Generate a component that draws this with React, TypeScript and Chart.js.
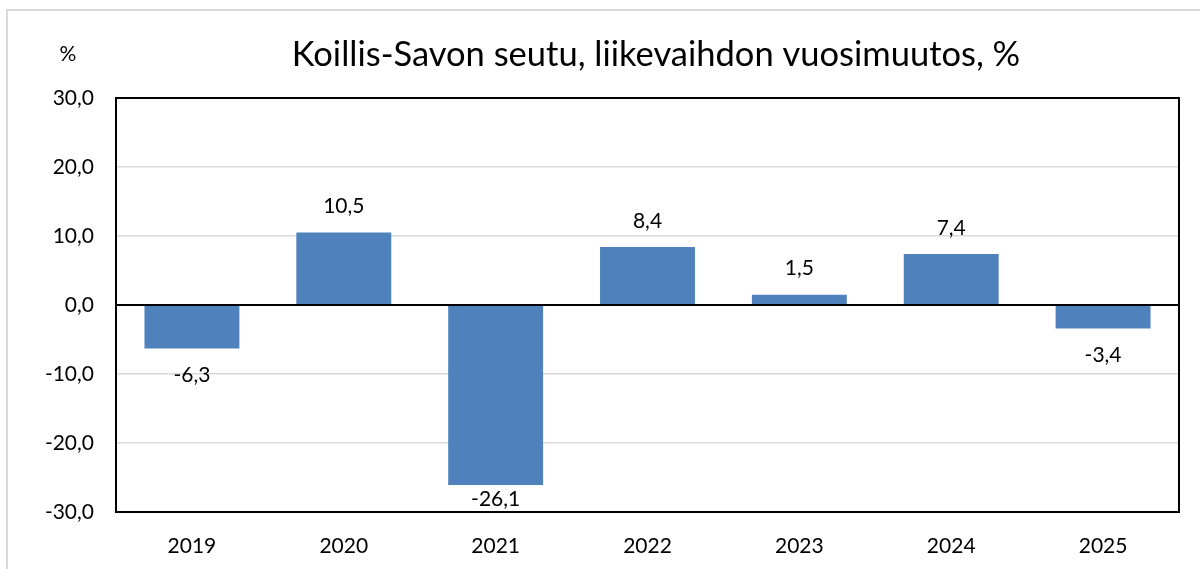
import { useEffect, useRef } from 'react';
import { Chart, registerables } from 'chart.js';

Chart.register(...registerables);

const categories = ['2019', '2020', '2021', '2022', '2023', '2024', '2025'];
const changes = [-6.3, 10.5, -26.1, 8.4, 1.5, 7.4, -3.4];
const yMin = -30;
const yMax = 30;
const yStep = 10;
const titleText = 'Koillis-Savon seutu, liikevaihdon vuosimuutos, %';
const unitLabel = '%';

const FONT = 'Lato, "Open Sans", sans-serif';
const fmt = (v: number) => v.toFixed(1).replace('.', ',');

export default function App() {
  const ref = useRef<HTMLCanvasElement>(null);

  useEffect(() => {
    const canvas = ref.current;
    if (!canvas) return;

    const deco = {
      id: 'deco',
      beforeDraw(chart: any) {
        const { ctx, width, height } = chart;
        ctx.save();
        ctx.fillStyle = '#ffffff';
        ctx.fillRect(0, 0, width, height);
        ctx.strokeStyle = '#d9d9d9';
        ctx.lineWidth = 2;
        ctx.beginPath();
        ctx.moveTo(7, height + 5);
        ctx.lineTo(7, 10);
        ctx.lineTo(width + 5, 10);
        ctx.stroke();
        ctx.fillStyle = '#000000';
        ctx.textAlign = 'center';
        ctx.textBaseline = 'middle';
        ctx.font = `34.5px ${FONT}`;
        ctx.fillText(titleText, 656, 55);
        ctx.font = `21px ${FONT}`;
        ctx.fillText(unitLabel, 68, 54);
        ctx.restore();
      },
      afterDatasetsDraw(chart: any) {
        const { ctx, chartArea } = chart;
        const yScale = chart.scales.y;
        const y0 = yScale.getPixelForValue(0);
        ctx.save();
        ctx.strokeStyle = '#000000';
        ctx.lineWidth = 2;
        ctx.beginPath();
        ctx.moveTo(chartArea.left, y0);
        ctx.lineTo(chartArea.right, y0);
        ctx.stroke();

        const meta = chart.getDatasetMeta(0);
        ctx.fillStyle = '#000000';
        ctx.font = `21px ${FONT}`;
        ctx.textAlign = 'center';
        ctx.textBaseline = 'middle';
        meta.data.forEach((el: any, i: number) => {
          const v = changes[i];
          let ty = v >= 0 ? el.y - 26 : el.y + 27;
          if (ty > chartArea.bottom - 13) ty = chartArea.bottom - 13;
          ctx.fillText(fmt(v), el.x, ty);
        });
        ctx.restore();
      },
      afterDraw(chart: any) {
        const { ctx, chartArea } = chart;
        ctx.save();
        ctx.strokeStyle = '#000000';
        ctx.lineWidth = 2;
        ctx.strokeRect(chartArea.left, chartArea.top, chartArea.right - chartArea.left, chartArea.bottom - chartArea.top);
        ctx.restore();
      },
    };

    const chart = new Chart(canvas, {
      type: 'bar',
      data: {
        labels: categories,
        datasets: [
          {
            data: changes,
            backgroundColor: '#4f81bd',
            borderWidth: 0,
            categoryPercentage: 1,
            barPercentage: 0.625,
          },
        ],
      },
      options: {
        responsive: false,
        animation: false,
        devicePixelRatio: 1,
        layout: { padding: { left: 0, right: 21, top: 98, bottom: 0 } },
        plugins: {
          legend: { display: false },
          title: { display: false },
          tooltip: { enabled: false },
        },
        scales: {
          x: {
            grid: { display: false, drawTicks: false },
            border: { display: false },
            ticks: {
              color: '#000000',
              font: { family: FONT, size: 21 },
              padding: 22,
            },
            afterFit(scale: any) {
              scale.height = 57;
            },
          },
          y: {
            min: yMin,
            max: yMax,
            grid: {
              drawTicks: false,
              color: (c: any) => (c.tick && c.tick.value === 0 ? 'rgba(0,0,0,0)' : '#d9d9d9'),
              lineWidth: 1.5,
            },
            border: { display: false },
            ticks: {
              stepSize: yStep,
              color: '#000000',
              font: { family: FONT, size: 21 },
              padding: 22,
              callback: (v: any) => fmt(Number(v)),
            },
            afterFit(scale: any) {
              scale.width = 116;
            },
          },
        },
      },
      plugins: [deco],
    });

    return () => chart.destroy();
  }, []);

  return (
    <div style={{ position: 'absolute', left: 0, top: 0, width: 1200, height: 569 }}>
      <canvas ref={ref} width={1200} height={569} style={{ display: 'block', width: 1200, height: 569 }} />
    </div>
  );
}
